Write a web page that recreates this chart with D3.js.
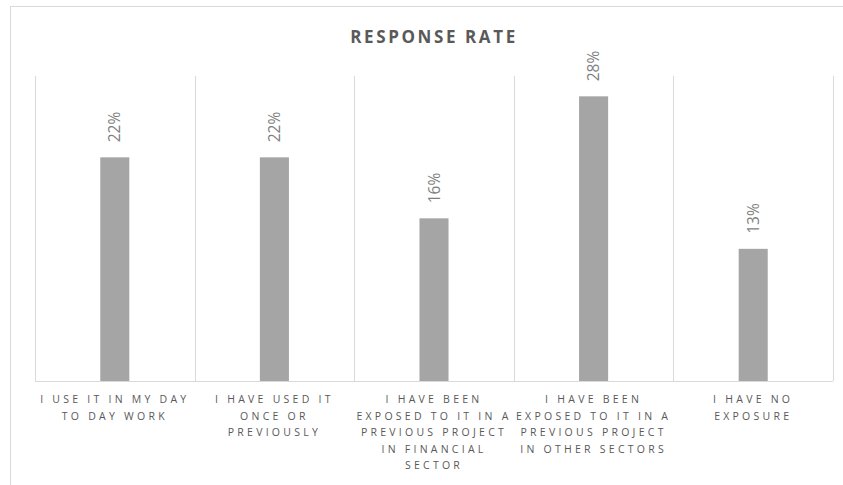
<!DOCTYPE html>
<html><head><meta charset="utf-8">
<script src="https://cdn.jsdelivr.net/npm/d3@7"></script>
<style>
html,body{margin:0;padding:0;background:#fff;}
svg{display:block;}
</style></head>
<body>
<svg id="chart" width="843" height="485"></svg>
<script>
const title = "RESPONSE RATE";
const categories = [
  "I USE IT IN MY DAY\nTO DAY WORK",
  "I HAVE USED IT\nONCE OR\nPREVIOUSLY",
  "I HAVE BEEN\nEXPOSED TO IT IN A\nPREVIOUS PROJECT\nIN FINANCIAL\nSECTOR",
  "I HAVE BEEN\nEXPOSED TO IT IN A\nPREVIOUS PROJECT\nIN OTHER SECTORS",
  "I HAVE NO\nEXPOSURE"
];
const values = [22, 22, 16, 28, 13];
const yDomain = [0, 30];

const svg = d3.select("#chart");
const margin = {left: 35, top: 76};
const plotRight = 833, baseY = 381;

// frame
svg.append("rect").attr("x", 10.5).attr("y", 6.5).attr("width", 900).attr("height", 600)
  .attr("fill", "#fff").attr("stroke", "#d9d9d9").attr("stroke-width", 1);

const x = d3.scaleBand().domain(categories).range([margin.left, plotRight]).paddingInner(0).paddingOuter(0);
const y = d3.scaleLinear().domain(yDomain).range([baseY, margin.top]);

// title
svg.append("text").attr("x", 434).attr("y", 43).attr("text-anchor", "middle")
  .attr("font-family", "Open Sans, sans-serif").attr("font-size", 17).attr("font-weight", "bold")
  .attr("letter-spacing", "2.6px").attr("fill", "#595959").text(title);

// vertical gridlines (category boundaries)
const bounds = categories.map(c => x(c)).concat([x(categories[categories.length-1]) + x.bandwidth()]);
svg.selectAll("line.grid").data(bounds).enter().append("line")
  .attr("x1", d => Math.round(d) + 0.5).attr("x2", d => Math.round(d) + 0.5)
  .attr("y1", y(yDomain[1])).attr("y2", baseY)
  .attr("stroke", "#d9d9d9").attr("stroke-width", 1);

// axis line
const xAxis = d3.axisBottom(x).tickSize(0).tickFormat("");
const gx = svg.append("g").attr("transform", `translate(0,${baseY + 0.5})`).call(xAxis);
gx.select(".domain").attr("stroke", "#d9d9d9").attr("d", `M${margin.left},0H${plotRight}`);

// bars
const barW = x.bandwidth() * 0.182;
svg.selectAll("rect.bar").data(values).enter().append("rect")
  .attr("x", (d, i) => x(categories[i]) + x.bandwidth() / 2 - barW / 2)
  .attr("y", d => y(d)).attr("width", barW).attr("height", d => baseY - y(d))
  .attr("fill", "#a5a5a5");

// data labels rotated
svg.selectAll("text.lbl").data(values).enter().append("text")
  .attr("transform", (d, i) => `translate(${x(categories[i]) + x.bandwidth() / 2 + 5.5},${y(d) - 15}) rotate(-90)`)
  .attr("text-anchor", "start")
  .attr("font-family", "Open Sans, sans-serif").attr("font-size", 15.5)
  .attr("fill", "#7f7f7f").text(d => d + "%");

// category labels
const lab = svg.selectAll("text.cat").data(categories).enter().append("text")
  .attr("text-anchor", "middle")
  .attr("font-family", "Open Sans, sans-serif").attr("font-size", 10.5)
  .attr("letter-spacing", "3.25px").attr("fill", "#595959");
lab.each(function(c) {
  const lines = c.split("\n");
  const t = d3.select(this);
  lines.forEach((ln, j) => {
    t.append("tspan").attr("x", x(c) + x.bandwidth() / 2).attr("y", 403 + j * 16.5).text(ln);
  });
});
</script>
</body></html>
